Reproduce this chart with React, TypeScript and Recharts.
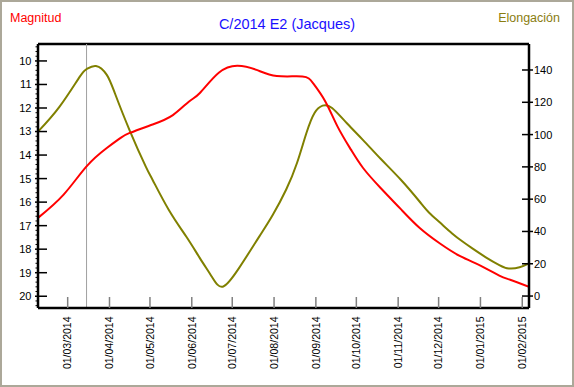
import { LineChart, Line, XAxis, YAxis, ReferenceLine } from "recharts";

// fechas y valores
const magDates = [
  "2014-02-07", "2014-02-26", "2014-03-15", "2014-03-30", "2014-04-09", "2014-04-16",
  "2014-05-03", "2014-05-18", "2014-05-30", "2014-06-07", "2014-06-21", "2014-07-05",
  "2014-07-19", "2014-08-03", "2014-08-22", "2014-08-30", "2014-09-08", "2014-09-17",
  "2014-09-27", "2014-10-06", "2014-10-19", "2014-11-03", "2014-11-17", "2014-12-02",
  "2014-12-17", "2015-01-01", "2015-01-15", "2015-01-23", "2015-02-06",
];
const magnitudes = [
  16.67, 15.68, 14.48, 13.7, 13.28, 13.06,
  12.7, 12.3, 11.72, 11.36, 10.5, 10.2,
  10.38, 10.64, 10.66, 10.95, 11.72, 12.78,
  13.77, 14.55, 15.4, 16.3, 17.1, 17.76,
  18.3, 18.7, 19.12, 19.3, 19.6,
];

const elongDates = [
  "2014-02-07", "2014-02-23", "2014-03-10", "2014-03-15", "2014-03-22", "2014-03-30",
  "2014-04-05", "2014-04-16", "2014-04-28", "2014-05-03", "2014-05-15", "2014-05-28",
  "2014-06-07", "2014-06-16", "2014-06-24", "2014-07-06", "2014-07-21", "2014-07-31",
  "2014-08-10", "2014-08-18", "2014-08-25", "2014-08-31", "2014-09-06", "2014-09-13",
  "2014-09-24", "2014-10-06", "2014-10-19", "2014-11-03", "2014-11-17", "2014-11-24",
  "2014-12-02", "2014-12-11", "2014-12-19", "2014-12-26", "2015-01-05", "2015-01-15",
  "2015-01-22", "2015-01-30", "2015-02-06",
];
const elongations = [
  101.8, 117.3, 135.9, 140.5, 142.5, 137,
  125.6, 102.5, 80, 71.9, 53.3, 36.7,
  23.5, 11.8, 5.8, 17.3, 36.8, 50.2,
  66, 82.4, 101, 113.4, 117.9, 116.5,
  107, 96.6, 85, 72, 58.4, 51.6,
  45.5, 38.8, 33.6, 29.5, 24, 19.2,
  17.1, 17.8, 20.2,
];

const monthTicks = [
  "2014-03-01", "2014-04-01", "2014-05-01", "2014-06-01", "2014-07-01", "2014-08-01",
  "2014-09-01", "2014-10-01", "2014-11-01", "2014-12-01", "2015-01-01", "2015-02-01",
];
const elongTicks = [0, 20, 40, 60, 80, 100, 120, 140];
const markerDate = "2014-03-15";
const startDate = "2014-02-07";
const endDate = "2015-02-06";

const toTime = (s: string) => {
  const [y, m, d] = s.split("-").map(Number);
  return Date.UTC(y, m - 1, d);
};

const magData = magDates.map((d, i) => ({ t: toTime(d), v: magnitudes[i] }));
const elongData = elongDates.map((d, i) => ({ t: toTime(d), v: elongations[i] }));

// marcas menores cada 0.2 en el eje de magnitud (las enteras llevan número)
const magAllTicks: number[] = [];
for (let i = 47; i <= 102; i++) magAllTicks.push(Math.round(i * 2) / 10);

const font = "'Liberation Sans', Arial, sans-serif";

const fmtDate = (t: number) => {
  const d = new Date(t);
  const dd = String(d.getUTCDate()).padStart(2, "0");
  const mm = String(d.getUTCMonth() + 1).padStart(2, "0");
  return `${dd}/${mm}/${d.getUTCFullYear()}`;
};

function MagTick(props: any) {
  const { x, y, payload } = props;
  const v = payload.value;
  if (Math.abs(v - Math.round(v)) > 1e-6) {
    return <line x1={x - 2.5} x2={x} y1={y} y2={y} stroke="#000" strokeWidth={1} />;
  }
  return (
    <g>
      <line x1={x - 3} x2={x + 9} y1={y} y2={y} stroke="#000" strokeWidth={1.5} />
      <text x={x - 6.5} y={y} dy="0.36em" textAnchor="end" fontSize={11} fontFamily={font} fill="#000">
        {v}
      </text>
    </g>
  );
}

function ElongTick(props: any) {
  const { x, y, payload } = props;
  return (
    <g>
      <line x1={x - 7} x2={x + 4} y1={y} y2={y} stroke="#000" strokeWidth={1.5} />
      <text x={x + 5} y={y} dy="0.36em" textAnchor="start" fontSize={11} fontFamily={font} fill="#000">
        {payload.value}
      </text>
    </g>
  );
}

function DateTick(props: any) {
  const { x, y, payload } = props;
  return (
    <g>
      <line x1={x} x2={x} y1={y - 11} y2={y} stroke="#808080" strokeWidth={1.5} />
      <g transform={`translate(${x},${y + 8.5}) rotate(-90)`}>
        <text x={0} y={0} dy="0.36em" textAnchor="end" fontSize={10.5} fontFamily={font} fill="#000">
          {fmtDate(payload.value)}
        </text>
      </g>
    </g>
  );
}

export default function App() {
  return (
    <div style={{ position: "absolute", left: 0, top: 0, width: 574, height: 387, background: "#fff" }}>
      <LineChart
        width={574}
        height={387}
        margin={{ top: 44, right: 0, bottom: 0, left: 0 }}
      >
        <XAxis
          dataKey="t"
          type="number"
          domain={[toTime(startDate), toTime(endDate)]}
          allowDataOverflow
          ticks={monthTicks.map(toTime)}
          interval={0}
          height={79}
          tickSize={0}
          tickMargin={0}
          tickLine={false}
          axisLine={{ stroke: "#000", strokeWidth: 2.5 }}
          tick={<DateTick />}
        />
        <YAxis
          yAxisId="mag"
          orientation="left"
          reversed
          type="number"
          domain={[9.28, 20.5]}
          allowDataOverflow
          ticks={magAllTicks}
          interval={0}
          width={38}
          tickSize={0}
          tickMargin={0}
          tickLine={false}
          axisLine={{ stroke: "#000", strokeWidth: 2.5 }}
          tick={<MagTick />}
        />
        <YAxis
          yAxisId="elong"
          orientation="right"
          type="number"
          domain={[-7.4, 156.1]}
          allowDataOverflow
          ticks={elongTicks}
          interval={0}
          width={45}
          tickSize={0}
          tickMargin={0}
          tickLine={false}
          axisLine={{ stroke: "#000", strokeWidth: 2.5 }}
          tick={<ElongTick />}
        />
        <ReferenceLine yAxisId="mag" y={9.28} stroke="#000" strokeWidth={2.5} ifOverflow="visible" />
        <ReferenceLine yAxisId="mag" x={toTime(markerDate)} stroke="#a0a0a0" strokeWidth={1} />
        <Line
          yAxisId="elong"
          data={elongData}
          dataKey="v"
          type="natural"
          stroke="#808000"
          strokeWidth={2}
          dot={false}
          isAnimationActive={false}
        />
        <Line
          yAxisId="mag"
          data={magData}
          dataKey="v"
          type="natural"
          stroke="#ff0000"
          strokeWidth={2}
          dot={false}
          isAnimationActive={false}
        />
      </LineChart>
      <div style={{ position: "absolute", left: 10, top: 11, fontFamily: font, fontSize: 12.5, lineHeight: "14px", color: "#ff0000" }}>
        Magnitud
      </div>
      <div style={{ position: "absolute", left: 0, width: 574, top: 16, textAlign: "center", fontFamily: font, fontSize: 14.5, lineHeight: "16px", color: "#1a10ff" }}>
        C/2014 E2 (Jacques)
      </div>
      <div style={{ position: "absolute", right: 14, top: 11, fontFamily: font, fontSize: 12.5, lineHeight: "14px", color: "#8a7d10" }}>
        Elongación
      </div>
      <div style={{ position: "absolute", inset: 0, border: "2px solid #aca899", pointerEvents: "none" }} />
    </div>
  );
}
